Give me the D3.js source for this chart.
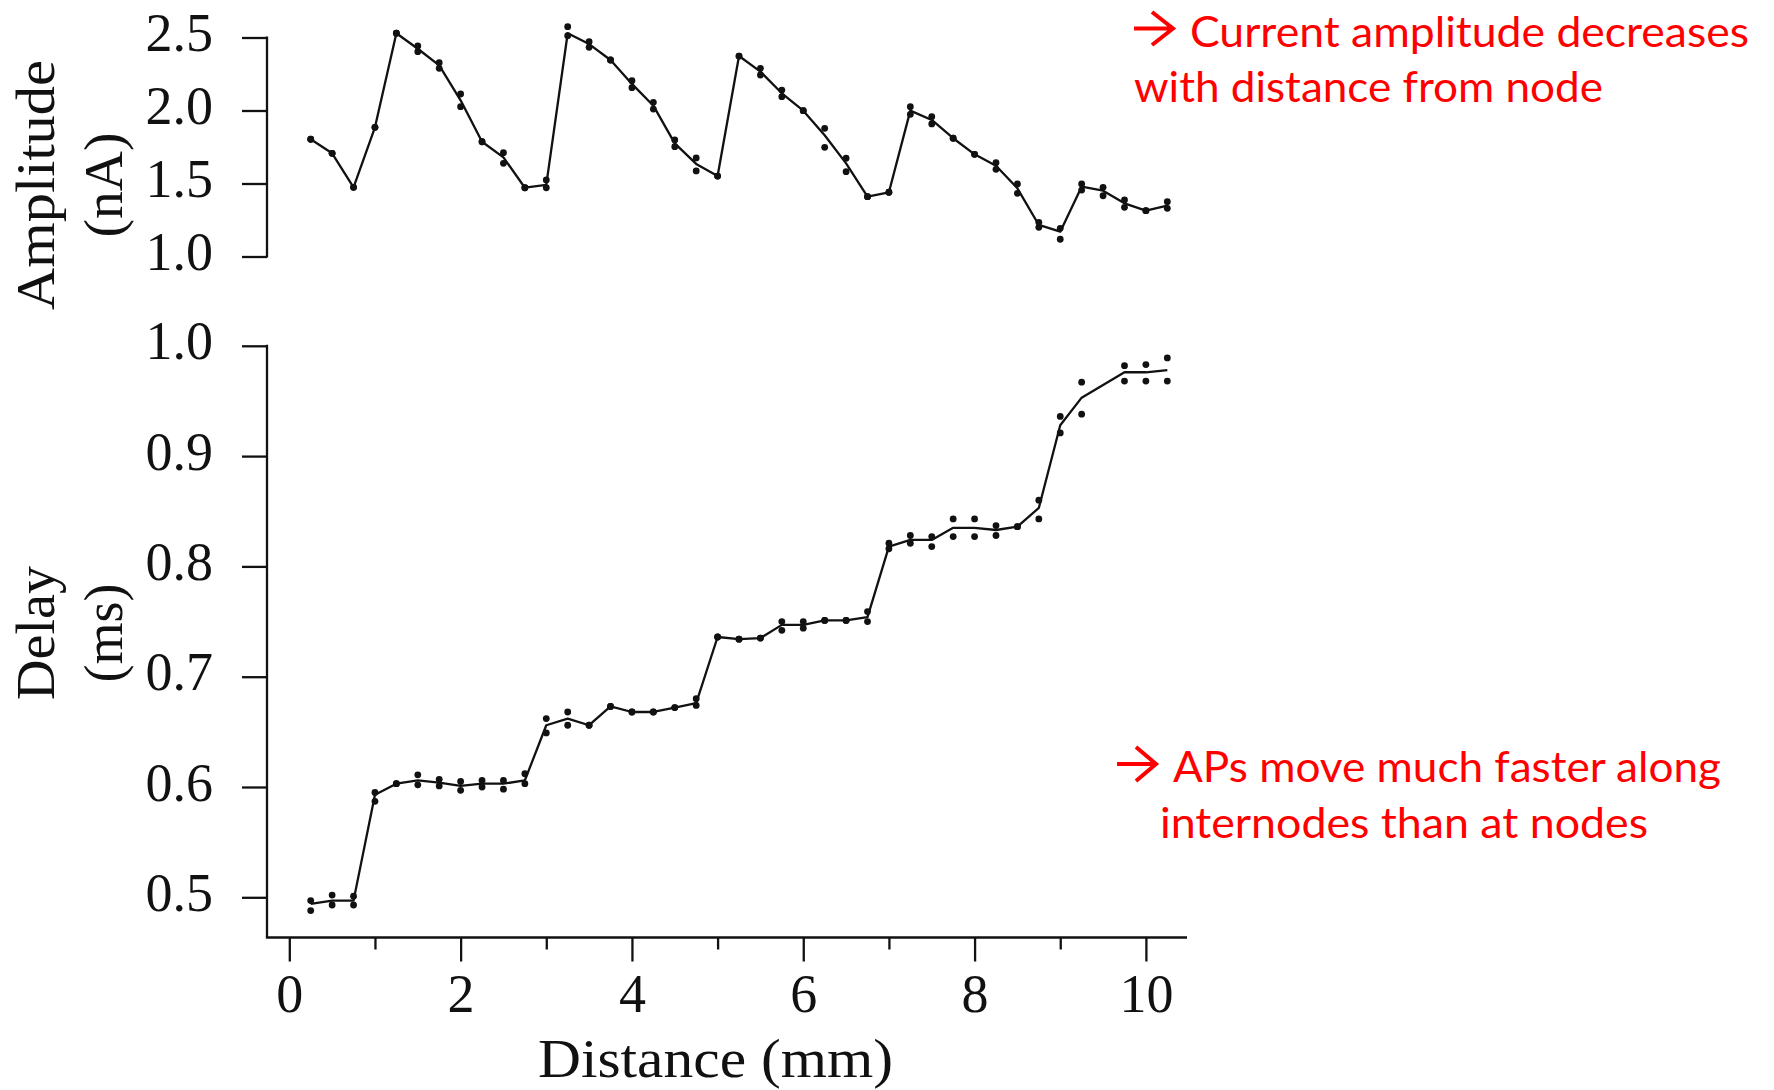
<!DOCTYPE html>
<html>
<head>
<meta charset="utf-8">
<script src="https://cdn.jsdelivr.net/npm/d3@7"></script>
<style>
  html, body { margin: 0; padding: 0; background: #ffffff; }
  svg { display: block; }
</style>
</head>
<body>
<svg id="chart" width="1774" height="1090"></svg>
<script>
// Recording positions along the axon (mm)
const distance = [0.25, 0.5, 0.75, 1.0, 1.25, 1.5, 1.75, 2.0, 2.25, 2.5, 2.75, 3.0, 3.25, 3.5, 3.75,
  4.0, 4.25, 4.5, 4.75, 5.0, 5.25, 5.5, 5.75, 6.0, 6.25, 6.5, 6.75, 7.0, 7.25, 7.5, 7.75,
  8.0, 8.25, 8.5, 8.75, 9.0, 9.25, 9.5, 9.75, 10.0, 10.25];

// Current amplitude (nA): mean trace and the two individual trials
const amplitudeMean = [1.803, 1.707, 1.474, 1.885, 2.529, 2.423, 2.309, 2.070, 1.786, 1.679, 1.471, 1.490, 2.529, 2.455, 2.346,
  2.182, 2.033, 1.775, 1.634, 1.551, 2.373, 2.266, 2.118, 1.999, 1.830, 1.638, 1.410, 1.440, 1.999, 1.935, 1.810,
  1.700, 1.622, 1.467, 1.216, 1.170, 1.478, 1.451, 1.364, 1.314, 1.348];
const amplitudeTrialA = [1.803, 1.707, 1.474, 1.885, 2.529, 2.442, 2.327, 2.113, 1.786, 1.711, 1.471, 1.524, 2.574, 2.471, 2.346,
  2.204, 2.056, 1.798, 1.675, 1.551, 2.373, 2.289, 2.140, 1.999, 1.878, 1.673, 1.410, 1.440, 2.026, 1.958, 1.810,
  1.700, 1.642, 1.497, 1.234, 1.193, 1.497, 1.474, 1.387, 1.314, 1.375];
const amplitudeTrialB = [1.803, 1.707, 1.474, 1.885, 2.529, 2.403, 2.289, 2.026, 1.786, 1.638, 1.471, 1.471, 2.512, 2.433, 2.346,
  2.156, 2.010, 1.752, 1.586, 1.551, 2.373, 2.243, 2.095, 1.999, 1.748, 1.581, 1.410, 1.440, 1.974, 1.908, 1.810,
  1.700, 1.597, 1.433, 1.200, 1.118, 1.455, 1.416, 1.337, 1.314, 1.330];

// Spike delay (ms): mean trace and the two individual trials (no recording at 9.5 mm)
const delayMean = [0.494, 0.497, 0.497, 0.593, 0.603, 0.606, 0.604, 0.601, 0.603, 0.603, 0.606, 0.656, 0.662, 0.656, 0.673,
  0.668, 0.668, 0.672, 0.676, 0.736, 0.734, 0.735, 0.747, 0.747, 0.751, 0.751, 0.754, 0.818, 0.824, 0.824, 0.835,
  0.835, 0.833, 0.836, 0.853, 0.928, 0.953, null, 0.976, 0.976, 0.978];
const delayTrialA = [0.497, 0.502, 0.501, 0.595, 0.603, 0.611, 0.607, 0.605, 0.606, 0.606, 0.612, 0.662, 0.668, 0.656, 0.673,
  0.668, 0.668, 0.672, 0.680, 0.736, 0.734, 0.735, 0.750, 0.750, 0.751, 0.751, 0.759, 0.821, 0.828, 0.827, 0.843,
  0.843, 0.837, 0.836, 0.860, 0.936, 0.967, null, 0.982, 0.983, 0.989];
const delayTrialB = [0.488, 0.493, 0.493, 0.587, 0.603, 0.602, 0.601, 0.597, 0.600, 0.598, 0.603, 0.649, 0.656, 0.656, 0.673,
  0.668, 0.668, 0.672, 0.674, 0.736, 0.734, 0.735, 0.742, 0.744, 0.751, 0.751, 0.750, 0.816, 0.821, 0.818, 0.827,
  0.827, 0.828, 0.836, 0.843, 0.921, 0.938, null, 0.968, 0.968, 0.968];

// Tick values
const distanceMajorTicks = [0, 2, 4, 6, 8, 10];
const distanceMinorTicks = [1, 3, 5, 7, 9];
const amplitudeTicks = [1.0, 1.5, 2.0, 2.5];
const delayTicks = [0.5, 0.6, 0.7, 0.8, 0.9, 1.0];

// Text
const amplitudeTitle = ["Amplitude", "(nA)"];
const delayTitle = ["Delay", "(ms)"];
const distanceTitle = "Distance (mm)";
const noteAmplitude = ["Current amplitude decreases", "with distance from node"];
const noteDelay = ["APs move much faster along", "internodes than at nodes"];

// ---------------------------------------------------------------------------
const svg = d3.select("#chart");
svg.append("rect").attr("width", 1774).attr("height", 1090).attr("fill", "#ffffff");

const SERIF = "'Liberation Serif', 'Times New Roman', serif";
const SANS = "Lato, 'Open Sans', sans-serif";
const INK = "#111111";
const RED = "#ff0000";

const spineX = 267;
const xAxisY = 937.5;
const xAxisEnd = 1187;

const x = d3.scaleLinear().domain([0, 10]).range([289.3, 1145.9]);
const yAmp = d3.scaleLinear().domain([1.0, 2.5]).range([256.5, 37.5]);
const yDelay = d3.scaleLinear().domain([0.5, 1.0]).range([897.3, 345.8]);

function styleAxis(g) {
  g.selectAll(".tick line").attr("stroke", INK).attr("stroke-width", 2.3);
  g.selectAll(".tick text")
    .attr("font-family", SERIF)
    .attr("font-size", 54)
    .attr("fill", INK);
  g.select(".domain").remove();
}

// ---- Y axes -------------------------------------------------------------
function drawYAxis(scale, ticks, spineTop, spineBottom) {
  const g = svg.append("g")
    .attr("transform", `translate(${spineX},0)`)
    .call(d3.axisLeft(scale).tickValues(ticks).tickFormat(d3.format(".1f"))
      .tickSize(25).tickSizeOuter(0).tickPadding(29));
  styleAxis(g);
  g.selectAll(".tick text").attr("dy", null).attr("y", 13);
  g.append("line")
    .attr("x1", 0).attr("x2", 0)
    .attr("y1", spineTop).attr("y2", spineBottom)
    .attr("stroke", INK).attr("stroke-width", 2.3);
}
drawYAxis(yAmp, amplitudeTicks, yAmp(2.5) - 1, yAmp(1.0) + 1);
drawYAxis(yDelay, delayTicks, yDelay(1.0) - 1, xAxisY);

// ---- X axis -------------------------------------------------------------
const gx = svg.append("g")
  .attr("transform", `translate(0,${xAxisY})`)
  .call(d3.axisBottom(x).tickValues(distanceMajorTicks).tickFormat(d3.format("d"))
    .tickSize(24).tickSizeOuter(0));
styleAxis(gx);
gx.selectAll(".tick text").attr("dy", null).attr("y", 74);

const gxMinor = svg.append("g")
  .attr("transform", `translate(0,${xAxisY})`)
  .call(d3.axisBottom(x).tickValues(distanceMinorTicks).tickFormat("").tickSize(12).tickSizeOuter(0));
styleAxis(gxMinor);

svg.append("line")
  .attr("x1", spineX - 1.1).attr("x2", xAxisEnd)
  .attr("y1", xAxisY).attr("y2", xAxisY)
  .attr("stroke", INK).attr("stroke-width", 2.3);

// ---- Axis titles --------------------------------------------------------
function verticalTitle(lines, cy, lengths) {
  const baselines = [54, 122];
  lines.forEach((t, i) => {
    svg.append("text")
      .attr("transform", `translate(${baselines[i]},${cy}) rotate(-90)`)
      .attr("text-anchor", "middle")
      .attr("font-family", SERIF)
      .attr("font-size", 55)
      .attr("fill", INK)
      .attr("textLength", lengths[i])
      .attr("lengthAdjust", "spacingAndGlyphs")
      .text(t);
  });
}
verticalTitle(amplitudeTitle, 185, [250, 105]);
verticalTitle(delayTitle, 633, [134, 99]);

svg.append("text")
  .attr("x", 715.5).attr("y", 1077)
  .attr("text-anchor", "middle")
  .attr("font-family", SERIF)
  .attr("font-size", 55)
  .attr("fill", INK)
  .attr("textLength", 355)
  .attr("lengthAdjust", "spacingAndGlyphs")
  .text(distanceTitle);

// ---- Data marks ---------------------------------------------------------
function drawSeries(scale, mean, trialA, trialB) {
  const pts = distance.map((d, i) => [d, mean[i]]).filter(p => p[1] != null);
  const line = d3.line().x(p => x(p[0])).y(p => scale(p[1]));
  svg.append("path")
    .attr("d", line(pts))
    .attr("fill", "none")
    .attr("stroke", INK)
    .attr("stroke-width", 2.3)
    .attr("stroke-linejoin", "round");

  const dots = [];
  distance.forEach((d, i) => {
    if (trialA[i] != null) dots.push([d, trialA[i]]);
    if (trialB[i] != null) dots.push([d, trialB[i]]);
  });
  svg.append("g").selectAll("circle")
    .data(dots)
    .join("circle")
    .attr("cx", p => x(p[0]))
    .attr("cy", p => scale(p[1]))
    .attr("r", 3.4)
    .attr("fill", INK);
}
drawSeries(yAmp, amplitudeMean, amplitudeTrialA, amplitudeTrialB);
drawSeries(yDelay, delayMean, delayTrialA, delayTrialB);

// ---- Annotations --------------------------------------------------------
function arrow(x0, x1, cy, headLen, headHalf) {
  svg.append("path")
    .attr("d", `M${x0},${cy} H${x1 - 2} M${x1 - headLen},${cy - headHalf} L${x1},${cy} L${x1 - headLen},${cy + headHalf}`)
    .attr("fill", "none")
    .attr("stroke", RED)
    .attr("stroke-width", 4)
    .attr("stroke-linecap", "butt")
    .attr("stroke-linejoin", "miter");
}
function note(lines, positions) {
  lines.forEach((t, i) => {
    const p = positions[i];
    svg.append("text")
      .attr("x", p.x).attr("y", p.y)
      .attr("font-family", SANS)
      .attr("font-size", 42)
      .attr("fill", RED)
      .attr("textLength", p.w)
      .attr("lengthAdjust", "spacingAndGlyphs")
      .text(t);
  });
}

arrow(1134, 1173, 28.5, 21, 16.5);
note(noteAmplitude, [{ x: 1190, y: 46.7, w: 559 }, { x: 1134, y: 101.7, w: 469 }]);

arrow(1117, 1156, 764, 20, 17);
note(noteDelay, [{ x: 1173, y: 781.7, w: 548 }, { x: 1160, y: 838.3, w: 488 }]);
</script>
</body>
</html>
